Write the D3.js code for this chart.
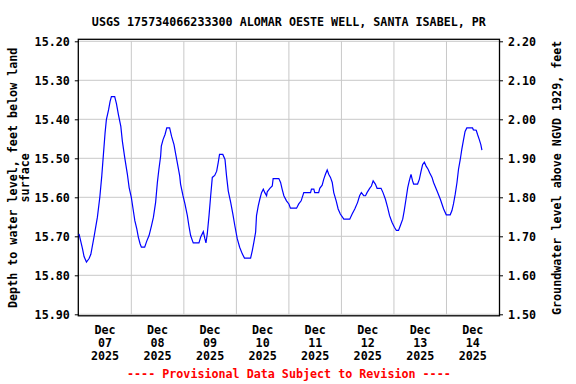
<!DOCTYPE html>
<html>
<head>
<meta charset="utf-8">
<script src="https://cdn.jsdelivr.net/npm/d3@7"></script>
<style>
  body { margin: 0; background: #fff; }
  text { font-family: "DejaVu Sans Mono", monospace; font-weight: bold; font-size: 11.7px; }
</style>
</head>
<body>
<div id="chart"></div>
<script>
// hours since Dec 07 2025 00:00 and depth to water (feet below land surface)
const hours = [0.1, 1.7, 2.4, 3.5, 4.7, 5.5, 7.0, 8.5, 9.6, 10.5, 11.3, 12.0, 12.6, 13.6, 14.3, 14.9, 16.4, 17.2, 18.1, 19.2,
  19.9, 21.0, 22.2, 23.0, 24.0, 24.8, 25.6, 26.5, 27.2, 28.0, 28.6, 30.1, 31.0, 32.1, 33.2, 34.1, 35.1, 35.9, 36.6, 37.4,
  37.7, 38.5, 39.4, 40.2, 41.5, 42.4, 43.5, 44.3, 45.0, 46.1, 46.5, 47.6, 48.5, 49.6, 50.3, 51.1, 51.9, 52.3, 54.9, 55.7,
  56.9, 57.6, 58.1, 58.7, 59.5, 60.2, 61.0, 62.1, 63.0, 63.7, 64.3, 65.8, 66.8, 67.5, 68.3, 69.4, 70.4, 71.3, 72.4, 73.5,
  74.7, 75.7, 78.5, 79.3, 80.0, 80.8, 81.2, 82.0, 82.7, 83.5, 84.3, 85.0, 85.8, 86.1, 87.3, 88.4, 88.8, 91.4, 92.2, 92.9,
  93.7, 94.9, 96.0, 96.7, 99.5, 100.5, 101.6, 102.8, 105.9, 106.3, 107.4, 107.8, 109.6, 110.1, 111.2, 111.9, 112.7, 113.5, 114.2, 115.0,
  115.8, 116.5, 117.6, 118.5, 119.5, 121.1, 123.8, 124.9, 126.1, 127.4, 128.3, 129.1, 130.2, 131.0, 131.7, 132.9, 133.7, 134.5, 135.5, 136.3,
  138.1, 139.0, 140.1, 141.1, 142.0, 143.1, 144.2, 145.1, 146.1, 146.9, 148.0, 148.7, 149.5, 150.3, 151.0, 151.8, 152.5, 153.0, 154.8, 155.6,
  156.4, 157.1, 157.9, 158.7, 159.6, 160.3, 161.4, 162.1, 163.7, 165.2, 166.7, 167.9, 169.7, 170.5, 171.2, 172.0, 172.8, 173.5, 174.3, 175.0,
  175.8, 176.5, 177.3, 179.9, 180.3, 181.6, 182.2, 183.0, 183.7, 184.2];
const depth = [15.694, 15.732, 15.752, 15.766, 15.757, 15.746, 15.700, 15.651, 15.600, 15.545, 15.486, 15.435, 15.401, 15.376, 15.354, 15.342, 15.342, 15.360, 15.388, 15.418,
  15.456, 15.499, 15.541, 15.575, 15.600, 15.630, 15.660, 15.681, 15.702, 15.719, 15.728, 15.728, 15.713, 15.698, 15.673, 15.651, 15.613, 15.562, 15.528, 15.494,
  15.469, 15.452, 15.439, 15.422, 15.422, 15.444, 15.465, 15.490, 15.511, 15.545, 15.566, 15.596, 15.617, 15.647, 15.673, 15.698, 15.711, 15.717, 15.717, 15.702,
  15.688, 15.706, 15.717, 15.694, 15.647, 15.600, 15.549, 15.544, 15.533, 15.511, 15.490, 15.490, 15.503, 15.545, 15.584, 15.613, 15.643, 15.673, 15.706, 15.728,
  15.745, 15.756, 15.756, 15.736, 15.715, 15.689, 15.647, 15.622, 15.605, 15.588, 15.579, 15.588, 15.596, 15.586, 15.577, 15.571, 15.552, 15.552, 15.562, 15.579,
  15.596, 15.609, 15.617, 15.628, 15.628, 15.617, 15.609, 15.588, 15.588, 15.579, 15.579, 15.588, 15.588, 15.577, 15.569, 15.554, 15.541, 15.530, 15.541, 15.549,
  15.562, 15.588, 15.609, 15.630, 15.643, 15.656, 15.656, 15.643, 15.630, 15.613, 15.596, 15.588, 15.596, 15.596, 15.588, 15.577, 15.571, 15.558, 15.566, 15.577,
  15.577, 15.588, 15.605, 15.626, 15.647, 15.664, 15.677, 15.685, 15.685, 15.673, 15.656, 15.634, 15.605, 15.575, 15.558, 15.541, 15.558, 15.566, 15.566, 15.554,
  15.533, 15.516, 15.510, 15.520, 15.528, 15.537, 15.549, 15.562, 15.584, 15.605, 15.630, 15.645, 15.645, 15.634, 15.617, 15.592, 15.562, 15.528, 15.503, 15.477,
  15.452, 15.431, 15.422, 15.422, 15.427, 15.428, 15.439, 15.452, 15.465, 15.479];

const depthTicks = [15.2, 15.3, 15.4, 15.5, 15.6, 15.7, 15.8, 15.9];
const elevTicks = [2.2, 2.1, 2.0, 1.9, 1.8, 1.7, 1.6, 1.5];
const dayLabels = ["07", "08", "09", "10", "11", "12", "13", "14"];

const titleText = "USGS 175734066233300 ALOMAR OESTE WELL, SANTA ISABEL, PR";
const footerText = "---- Provisional Data Subject to Revision ----";

// set the dimensions and margins of the graph
const margin = { top: 41.3, right: 77, bottom: 69.7, left: 78.8 },
    width = 576 - margin.left - margin.right,
    height = 384 - margin.top - margin.bottom;

const svg = d3.select("#chart")
    .append("svg")
    .attr("width", 576)
    .attr("height", 384)
    .append("g")
    .attr("transform", `translate(${margin.left}, ${margin.top})`);

const start = Date.UTC(2025, 11, 7);
const data = hours.map((h, i) => ({ t: new Date(start + h * 3600e3), d: depth[i] }));

const x = d3.scaleUtc()
    .domain([new Date(start), new Date(start + 8 * 864e5)])
    .range([0, width]);

const y = d3.scaleLinear().domain([15.2, 15.9]).range([0, height]);
const yRight = d3.scaleLinear().domain([2.2, 1.5]).range([0, height]);

// grid
svg.append("g")
    .selectAll("line")
    .data(depthTicks)
    .join("line")
    .attr("x1", 0).attr("x2", width)
    .attr("y1", d => y(d)).attr("y2", d => y(d))
    .style("stroke", "#c8c8c8");

svg.append("g")
    .selectAll("line")
    .data(d3.utcDay.range(new Date(start + 864e5), new Date(start + 8 * 864e5)))
    .join("line")
    .attr("x1", d => x(d)).attr("x2", d => x(d))
    .attr("y1", 0).attr("y2", height)
    .style("stroke", "#c8c8c8");

// frame
svg.append("rect")
    .attr("x", -0.5).attr("y", -2)
    .attr("width", width + 1).attr("height", height + 3.5)
    .style("fill", "none")
    .style("stroke", "black")
    .style("stroke-width", 1.3);

// axes
const yAxis = svg.append("g")
    .call(d3.axisLeft(y).tickValues(depthTicks).tickSize(4).tickPadding(5).tickFormat(d3.format(".2f")));
yAxis.select(".domain").remove();

const yAxisR = svg.append("g")
    .attr("transform", `translate(${width}, 0)`)
    .call(d3.axisRight(yRight).tickValues(elevTicks).tickSize(4).tickPadding(5).tickFormat(d3.format(".2f")));
yAxisR.select(".domain").remove();

svg.selectAll(".tick text")
    .style("fill", "black")
    .attr("dy", "0.36em");

// x labels at noon of each day
const xLab = svg.append("g")
    .selectAll("text")
    .data(dayLabels)
    .join("text")
    .attr("text-anchor", "middle")
    .attr("transform", (d, i) => `translate(${x(new Date(start + (i + 0.5) * 864e5))}, ${height})`);
xLab.append("tspan").attr("x", 0).attr("y", 20).text("Dec");
xLab.append("tspan").attr("x", 0).attr("y", 33).text(d => d);
xLab.append("tspan").attr("x", 0).attr("y", 45.5).text("2025");

// the line
svg.append("path")
    .datum(data)
    .attr("fill", "none")
    .attr("stroke", "#0000ff")
    .attr("stroke-width", 1.2)
    .attr("d", d3.line().x(d => x(d.t)).y(d => y(d.d)));

// title
svg.append("text")
    .attr("x", width / 2)
    .attr("y", -15.5)
    .attr("text-anchor", "middle")
    .text(titleText);

// footer
svg.append("text")
    .attr("x", width / 2)
    .attr("y", height + 63.5)
    .attr("text-anchor", "middle")
    .style("fill", "#ff0000")
    .text(footerText);

// axis titles
const leftTitle = svg.append("text")
    .attr("text-anchor", "middle")
    .attr("transform", `translate(${-62}, ${height / 2}) rotate(-90)`);
leftTitle.append("tspan").attr("x", 0).attr("y", 0).text("Depth to water level, feet below land");
leftTitle.append("tspan").attr("x", 0).attr("y", 12).text("surface");

svg.append("text")
    .attr("text-anchor", "middle")
    .attr("transform", `translate(${width + 62}, ${height / 2}) rotate(-90)`)
    .text("Groundwater level above NGVD 1929, feet");
</script>
</body>
</html>
